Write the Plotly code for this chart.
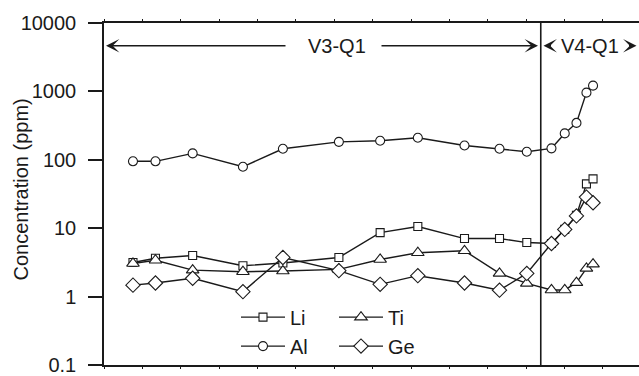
import plotly.graph_objects as go

# Sample positions along the traverse (tick spacing = 1 unit)
position = [0.755, 1.341, 2.310, 3.620, 4.661, 6.120, 7.195, 8.177, 9.393,
            10.305, 11.016, 11.659, 12.005, 12.310, 12.570, 12.742]

# Trace-element concentrations (ppm)
li = [3.15, 3.64, 3.99, 2.82, 3.1, 3.73, 8.6, 10.6, 7.05, 7.05, 6.16,
      5.96, 9.6, 15.4, 44.5, 52.6]
al = [95, 95, 124, 79, 145, 183, 190, 210, 162, 145, 131,
      147, 243, 346, 959, 1213]
ti = [3.05, 3.4, 2.44, 2.31, 2.36, 2.5, 3.49, 4.37, 4.67, 2.18, 1.56,
      1.25, 1.25, 1.6, 2.58, 2.98]
ge = [1.47, 1.58, 1.85, 1.18, 3.73, 2.39, 1.51, 2.02, 1.58, 1.24, 2.18,
      5.96, 9.6, 15.1, 28.5, 23.5]

# Boundary between the two growth zones
zone_boundary = 11.38

y_tickvals = [0.1, 1, 10, 100, 1000, 10000]
y_ticktext = ["0.1", "1", "10", "100", "1000", "10000"]

FONT = "Liberation Sans, Arial, sans-serif"
INK = "#1a1a1a"

W, H = 639, 376
ML, MR, MT, MB = 104, 0, 23, 8
plot_w = W - ML - MR
plot_h = H - MT - MB


def px_x(p):
    return (p - ML) / plot_w


def px_y(p):
    return (H - MB - p) / plot_h


series = [
    ("Li", li, "square", 8, "legend"),
    ("Ti", ti, "triangle-up", 11, "legend2"),
    ("Al", al, "circle", 9, "legend"),
    ("Ge", ge, "diamond", 11, "legend2"),
]

fig = go.Figure()
for name, vals, sym, size, leg in series:
    fig.add_trace(go.Scatter(
        x=position, y=vals, name=name, mode="lines+markers",
        line=dict(color=INK, width=1.4),
        marker=dict(symbol=sym, size=size, color="white",
                    line=dict(color=INK, width=1.1)),
        legend=leg, cliponaxis=False,
    ))

fig.add_shape(type="line", xref="x", yref="paper",
              x0=zone_boundary, x1=zone_boundary, y0=0, y1=1,
              line=dict(color=INK, width=1.6))

arrow_y = px_y(46)
arrow_common = dict(xref="paper", yref="paper", y=arrow_y, text="",
                    showarrow=True, arrowhead=3, arrowsize=1.4,
                    arrowwidth=1.6, arrowcolor=INK, ay=0, axref="pixel",
                    ayref="pixel")
annotations = [
    dict(x=px_x(106), ax=181, **arrow_common),
    dict(x=px_x(538), ax=-158, **arrow_common),
    dict(x=px_x(543.5), ax=9, **arrow_common),
    dict(x=px_x(636.5), ax=-9, **arrow_common),
    dict(x=px_x(336.7), y=arrow_y, xref="paper", yref="paper",
         text="V3-Q1", showarrow=False, xanchor="center", yanchor="middle",
         font=dict(family=FONT, size=20, color=INK)),
    dict(x=px_x(590), y=arrow_y, xref="paper", yref="paper",
         text="V4-Q1", showarrow=False, xanchor="center", yanchor="middle",
         font=dict(family=FONT, size=20, color=INK)),
    dict(x=px_x(21), y=px_y(191), xref="paper", yref="paper",
         text="Concentration (ppm)", textangle=-90, showarrow=False,
         xanchor="center", yanchor="middle",
         font=dict(family=FONT, size=20, color=INK)),
]

legend_common = dict(
    bgcolor="rgba(0,0,0,0)", borderwidth=0, orientation="v",
    xanchor="left", yanchor="top", itemwidth=44,
    font=dict(family=FONT, size=20, color=INK), tracegroupgap=0,
)

fig.update_layout(
    width=W, height=H,
    margin=dict(l=ML, r=MR, t=MT, b=MB, pad=0),
    paper_bgcolor="white", plot_bgcolor="white",
    font=dict(family=FONT, size=20, color=INK),
    showlegend=True,
    legend=dict(x=px_x(236), y=px_y(300), **legend_common),
    legend2=dict(x=px_x(334), y=px_y(300), **legend_common),
    annotations=annotations,
    xaxis=dict(
        range=[0, plot_w / 38.38], showgrid=False, zeroline=False,
        showline=True, linecolor=INK, linewidth=1.5, mirror="ticks",
        ticks="outside", ticklen=2, tickwidth=1, tickcolor=INK,
        dtick=1, tick0=0, showticklabels=False,
    ),
    yaxis=dict(
        type="log", range=[-1.0005, 4], showgrid=False, zeroline=False,
        showline=True, linecolor=INK, linewidth=1.5, mirror=False,
        ticks="outside", ticklen=14, tickwidth=1.5, tickcolor=INK,
        tickvals=y_tickvals, ticktext=y_ticktext, ticklabelstandoff=8,
        ticklabeloverflow="allow",
        tickfont=dict(family=FONT, size=20, color=INK),
    ),
)

fig.write_html("out.html")
